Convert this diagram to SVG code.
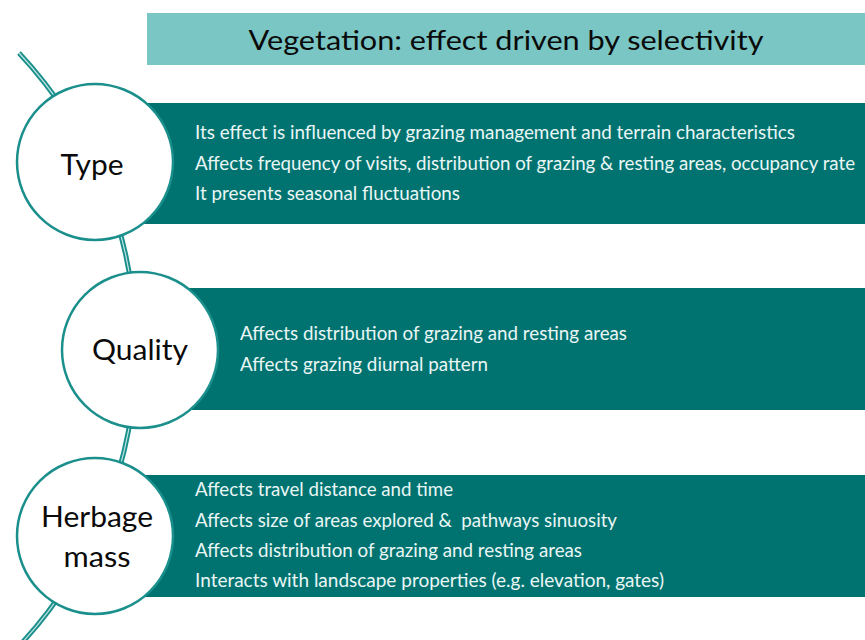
<svg xmlns="http://www.w3.org/2000/svg" width="865" height="640" viewBox="0 0 865 640">
<style>
.band{fill:#007370}
.title-box{fill:#7AC6C4}
.node{fill:#ffffff;stroke:#1A8F8B;stroke-width:2.5}
.lbl{font-family:Lato,"Open Sans","Liberation Sans",sans-serif;font-size:29px;fill:#0a0a0a;text-anchor:middle}
.body{font-family:Lato,"Open Sans","Liberation Sans",sans-serif;font-size:18.5px;fill:#EAF6F5}
.title{font-family:Lato,"Open Sans","Liberation Sans",sans-serif;font-size:26px;fill:#0a0a0a;text-anchor:middle}
.conn-outer{fill:none;stroke:#1A8F8B;stroke-width:5}
.conn-inner{fill:none;stroke:#BFE4E2;stroke-width:1.2}
</style>
<rect width="865" height="640" fill="#ffffff"/>
<g id="title">
<rect class="title-box" x="147" y="13" width="718" height="52"/>
<text class="title" x="506" y="50" textLength="515" lengthAdjust="spacingAndGlyphs">Vegetation: effect driven by selectivity</text>
</g>
<g id="connectors">
<path class="conn-outer" d="M 19 53 A 434 434 0 0 1 20 645"/>
<path class="conn-inner" d="M 19 53 A 434 434 0 0 1 20 645"/>
</g>
<g id="type">
<rect class="band" x="95" y="103" width="770" height="121"/>
<circle class="node" cx="95" cy="162" r="78"/>
<text class="lbl" x="92" y="175" textLength="63" lengthAdjust="spacingAndGlyphs">Type</text>
<text class="body" x="195" y="139" textLength="600" lengthAdjust="spacingAndGlyphs">Its effect is influenced by grazing management and terrain characteristics</text>
<text class="body" x="195" y="170" textLength="660" lengthAdjust="spacingAndGlyphs">Affects frequency of visits, distribution of grazing &amp; resting areas, occupancy rate</text>
<text class="body" x="195" y="200" textLength="265" lengthAdjust="spacingAndGlyphs">It presents seasonal fluctuations</text>
</g>
<g id="quality">
<rect class="band" x="140" y="288" width="725" height="122"/>
<circle class="node" cx="140" cy="350" r="78"/>
<text class="lbl" x="140" y="360" textLength="96" lengthAdjust="spacingAndGlyphs">Quality</text>
<text class="body" x="240" y="340" textLength="387" lengthAdjust="spacingAndGlyphs">Affects distribution of grazing and resting areas</text>
<text class="body" x="240" y="371" textLength="248" lengthAdjust="spacingAndGlyphs">Affects grazing diurnal pattern</text>
</g>
<g id="herbage-mass">
<rect class="band" x="95" y="475" width="770" height="122"/>
<circle class="node" cx="95" cy="536" r="78"/>
<text class="lbl" x="97" y="527" textLength="112" lengthAdjust="spacingAndGlyphs">Herbage</text>
<text class="lbl" x="97" y="567" textLength="67" lengthAdjust="spacingAndGlyphs">mass</text>
<text class="body" x="195" y="496" textLength="258" lengthAdjust="spacingAndGlyphs">Affects travel distance and time</text>
<text class="body" x="195" y="527" textLength="422" lengthAdjust="spacingAndGlyphs" xml:space="preserve">Affects size of areas explored &amp;  pathways sinuosity</text>
<text class="body" x="195" y="557" textLength="387" lengthAdjust="spacingAndGlyphs">Affects distribution of grazing and resting areas</text>
<text class="body" x="195" y="587" textLength="469" lengthAdjust="spacingAndGlyphs">Interacts with landscape properties (e.g. elevation, gates)</text>
</g>
</svg>
